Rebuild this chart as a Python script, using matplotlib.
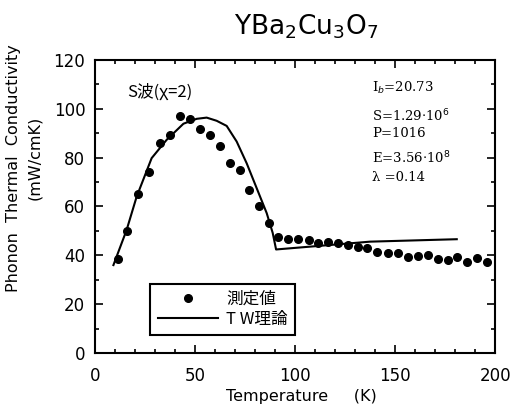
import matplotlib
matplotlib.use('Agg')
import matplotlib.pyplot as plt
from matplotlib.ticker import MultipleLocator

# measured values (dots)
temp_meas = [11.7, 15.8, 21.7, 27.0, 32.5, 37.5, 42.5, 47.5, 52.5, 57.5,
             62.5, 67.5, 72.3, 77.2, 82.2, 87.0, 91.7, 96.7, 101.7, 106.7,
             111.5, 116.2, 121.2, 126.2, 131.2, 135.8, 140.8, 146.2, 151.2, 156.2,
             161.2, 166.2, 171.2, 176.2, 180.8, 185.8, 190.8, 195.8]
kappa_meas = [38.4, 50.0, 65.2, 74.2, 85.9, 89.2, 96.9, 96.0, 91.7, 89.2,
              84.6, 77.7, 75.0, 66.8, 60.0, 53.1, 47.7, 46.6, 46.6, 46.3,
              45.2, 45.3, 45.0, 44.3, 43.3, 42.8, 41.4, 41.1, 40.8, 39.5,
              39.8, 40.2, 38.4, 38.1, 39.5, 37.3, 38.9, 37.3]

# TW theory curve
temp_tw = [9.2, 15.8, 20.8, 28.3, 35.8, 44.2, 50.8, 55.8, 60.8, 65.8,
           70.8, 75.8, 80.8, 85.8, 88.8, 90.5, 137.5, 180.8]
kappa_tw = [36.0, 50.4, 64.0, 79.8, 87.3, 93.9, 95.9, 96.4, 95.1, 93.0,
            86.6, 77.7, 67.5, 57.3, 49.2, 42.4, 45.6, 46.6]

cjk = ['Noto Sans CJK JP', 'DejaVu Sans']

fig = plt.figure(figsize=(5.15, 4.05), dpi=100)
ax = fig.add_axes([0.1845, 0.1284, 0.777, 0.7235])

dots, = ax.plot(temp_meas, kappa_meas, 'o', color='black', markersize=5.5, linestyle='none')
line, = ax.plot(temp_tw, kappa_tw, '-', color='black', linewidth=1.5)

ax.set_xlim(0, 200)
ax.set_ylim(0, 120)
ax.xaxis.set_major_locator(MultipleLocator(50))
ax.xaxis.set_minor_locator(MultipleLocator(10))
ax.yaxis.set_major_locator(MultipleLocator(20))
ax.yaxis.set_minor_locator(MultipleLocator(10))
ax.tick_params(which='both', direction='in', top=True, right=True, width=1.2)
ax.tick_params(which='major', length=6)
ax.tick_params(which='minor', length=3)
ax.tick_params(axis='x', pad=10, labelsize=12)
ax.tick_params(axis='y', pad=7, labelsize=12)
for s in ax.spines.values():
    s.set_linewidth(1.5)

fig.text(0.585, 0.002, 'Temperature     (K)', ha='center', va='bottom', fontsize=11.5)
fig.text(0.027, 0.585, 'Phonon  Thermal  Conductivity', rotation=90,
         ha='center', va='center', fontsize=11.5)
fig.text(0.068, 0.61, '(mW/cmK)', rotation=90, ha='center', va='center', fontsize=11.5)

fig.text(0.595, 0.935, r'YBa$_2$Cu$_3$O$_7$', ha='center', va='center', fontsize=19)

ax.text(0.08, 0.89, 'S波(χ=2)', transform=ax.transAxes, va='center',
        fontsize=12, family=cjk)

params = [(0.904, r'I$_b$=20.73'),
          (0.810, r'S=1.29$\cdot$10$^6$'),
          (0.748, 'P=1016'),
          (0.665, r'E=3.56$\cdot$10$^8$'),
          (0.600, 'λ =0.14')]
for yy, txt in params:
    ax.text(0.6925, yy, txt, transform=ax.transAxes, va='center',
            fontsize=9.5, family='DejaVu Serif')

leg = ax.legend([dots, line], ['測定値', 'T W理論'], loc='lower left',
                bbox_to_anchor=(0.1375, 0.061), borderaxespad=0,
                prop={'family': cjk, 'size': 12}, handlelength=3.6,
                handletextpad=0.5, numpoints=1, fancybox=False, framealpha=1,
                edgecolor='black', borderpad=0.45, labelspacing=0.15)
leg.get_frame().set_linewidth(1.5)

fig.savefig('out.png', dpi=100)
